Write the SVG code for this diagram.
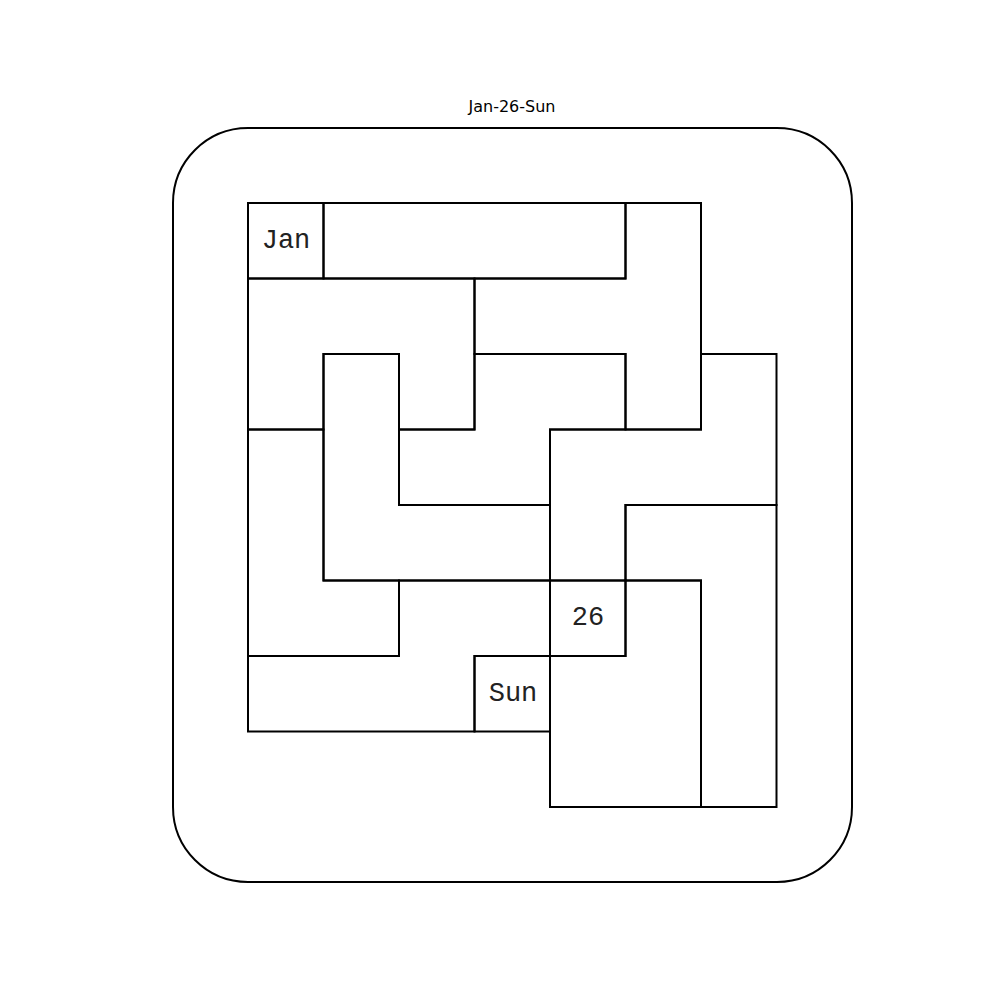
<svg xmlns="http://www.w3.org/2000/svg" width="1000" height="1000" viewBox="0 0 1000 1000">
<style>
.p{fill:none;stroke:#000;stroke-width:2;stroke-linejoin:miter}
.lbl{font-family:"Liberation Mono","Courier New",monospace;font-size:27px;fill:#222;text-anchor:middle;dominant-baseline:central}
.title{font-family:"DejaVu Sans",sans-serif;font-size:16px;fill:#000;text-anchor:middle}
</style>
<rect width="1000" height="1000" fill="#fff"/>
<text class="title" x="512" y="112">Jan-26-Sun</text>
<g id="frame">
<path class="p" d="M248,128 H777 A75,75 0 0 1 852,203 V807 A75,75 0 0 1 777,882 H248 A75,75 0 0 1 173,807 V203 A75,75 0 0 1 248,128 Z"/>
</g>
<g id="connectors"></g>
<g id="cell-jan"><rect class="p" x="248" y="203" width="75.5" height="75.5"/><text class="lbl" x="286" y="241">Jan</text></g>
<g id="cell-26"><rect class="p" x="550" y="580.5" width="75.5" height="75.5"/><text class="lbl" x="588" y="618">26</text></g>
<g id="cell-sun"><rect class="p" x="474.5" y="656" width="75.5" height="75.5"/><text class="lbl" x="513" y="694">Sun</text></g>
<g id="piece-a"><path class="p" d="M323.5,203 H625.5 V278.5 H323.5 Z"/></g>
<g id="piece-b"><path class="p" d="M625.5,203 H701 V429.5 H625.5 V354 H474.5 V278.5 H625.5 Z"/></g>
<g id="piece-c"><path class="p" d="M248,278.5 H474.5 V429.5 H399 V354 H323.5 V429.5 H248 Z"/></g>
<g id="piece-d"><path class="p" d="M323.5,354 H399 V505 H550 V580.5 H323.5 Z"/></g>
<g id="piece-e"><path class="p" d="M474.5,354 H625.5 V429.5 H550 V505 H399 V429.5 H474.5 Z"/></g>
<g id="piece-f"><path class="p" d="M701,354 H776.5 V505 H625.5 V580.5 H550 V429.5 H701 Z"/></g>
<g id="piece-g"><path class="p" d="M248,429.5 H323.5 V580.5 H399 V656 H248 Z"/></g>
<g id="piece-h"><path class="p" d="M399,580.5 H550 V656 H474.5 V731.5 H248 V656 H399 Z"/></g>
<g id="piece-i"><path class="p" d="M625.5,505 H776.5 V807 H701 V580.5 H625.5 Z"/></g>
<g id="piece-j"><path class="p" d="M625.5,580.5 H701 V807 H550 V656 H625.5 Z"/></g>
</svg>
